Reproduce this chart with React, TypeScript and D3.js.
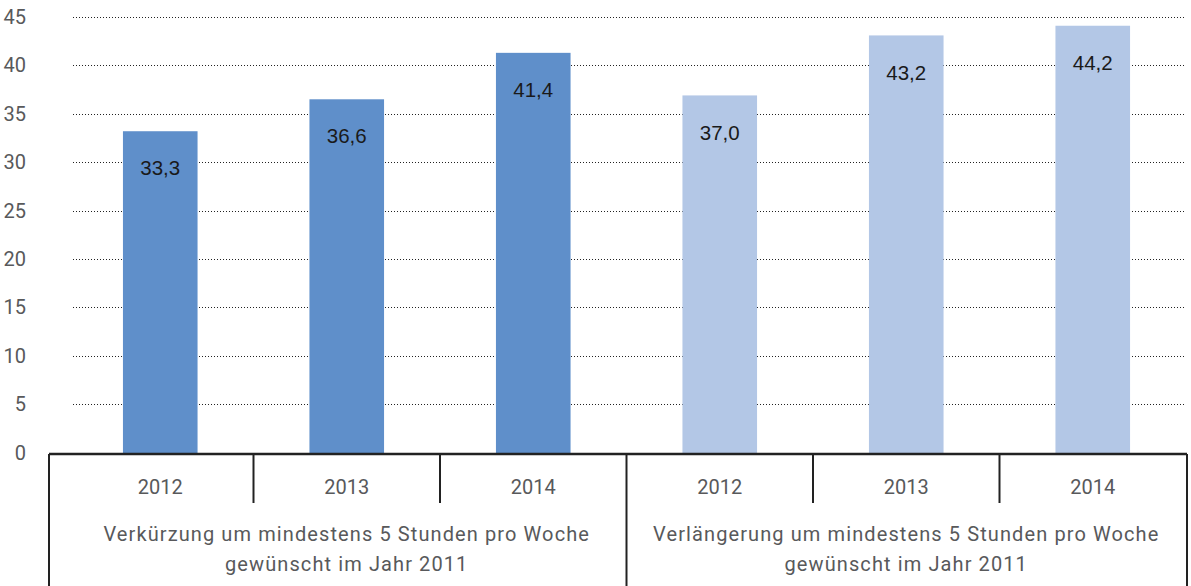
import React from "react";
import * as d3 from "d3";

const years = ["2012", "2013", "2014"];
const groups = [
  ["Verkürzung um mindestens 5 Stunden pro Woche", "gewünscht im Jahr 2011"],
  ["Verlängerung um mindestens 5 Stunden pro Woche", "gewünscht im Jahr 2011"],
];
const shortenValues = [33.3, 36.6, 41.4];
const extendValues = [37.0, 43.2, 44.2];
const yTicks = [0, 5, 10, 15, 20, 25, 30, 35, 40, 45];
const groupColors = ["#5f8fca", "#b3c7e6"];

const W = 1191;
const H = 586;

export default function App() {
  const bars = [
    ...shortenValues.map((v, i) => ({ key: `0-${i}`, g: 0, year: years[i], v })),
    ...extendValues.map((v, i) => ({ key: `1-${i}`, g: 1, year: years[i], v })),
  ];
  const x = d3
    .scaleBand<string>()
    .domain(bars.map((b) => b.key))
    .range([67, 1186])
    .paddingInner(0.6)
    .paddingOuter(0.3);
  const step = x.step();
  const y = d3.scaleLinear().domain([0, 45]).range([453.5, 18]);
  const axisY = 454;
  const fmt = (v: number) => d3.format(".1f")(v).replace(".", ",");
  const labelFont = "Roboto, 'Liberation Sans', Arial, sans-serif";
  const regular = "'Liberation Sans', Arial, sans-serif";
  const grey = "#58595b";

  const cellLeft = (k: string) => (x(k) as number) + x.bandwidth() / 2 - step / 2;
  const leftEdge = 49;
  const rightEdge = 1187;

  return (
    <div style={{ position: "fixed", left: 0, top: 0 }}>
      <svg width={W} height={H} style={{ display: "block", background: "#fff" }}>
        {yTicks
          .filter((t) => t > 0)
          .map((t) => (
            <line
              key={t}
              x1={73}
              x2={1185}
              y1={Math.round(y(t)) - 0.5}
              y2={Math.round(y(t)) - 0.5}
              stroke="#222"
              strokeWidth={1}
              strokeDasharray="1,2"
            />
          ))}
        {yTicks.map((t) => (
          <text
            key={t}
            x={26}
            y={y(t) - 1}
            dy="0.35em"
            textAnchor="end"
            fontFamily={labelFont}
            fontSize={20}
            fill={grey}
          >
            {t}
          </text>
        ))}
        {bars.map((b) => (
          <g key={b.key}>
            <rect
              x={x(b.key)}
              y={y(b.v)}
              width={x.bandwidth()}
              height={axisY - y(b.v)}
              fill={groupColors[b.g]}
            />
            <text
              x={(x(b.key) as number) + x.bandwidth() / 2}
              y={y(b.v) + 37}
              dy="0.35em"
              textAnchor="middle"
              fontFamily={regular}
              fontSize={20.5}
              fill="#1a1a1a"
            >
              {fmt(b.v)}
            </text>
          </g>
        ))}
        <line x1={leftEdge} x2={rightEdge} y1={axisY} y2={axisY} stroke="#222" strokeWidth={2.5} />
        <line x1={leftEdge} x2={leftEdge} y1={axisY} y2={H} stroke="#222" strokeWidth={2} />
        <line x1={rightEdge} x2={rightEdge} y1={axisY} y2={H} stroke="#222" strokeWidth={2} />
        {bars.map((b, i) =>
          i === 0 ? null : (
            <line
              key={"d" + b.key}
              x1={cellLeft(b.key)}
              x2={cellLeft(b.key)}
              y1={axisY}
              y2={i === 3 ? H : 503}
              stroke="#222"
              strokeWidth={2}
            />
          )
        )}
        {bars.map((b) => (
          <text
            key={"y" + b.key}
            x={(x(b.key) as number) + x.bandwidth() / 2}
            y={487}
            dy="0.35em"
            textAnchor="middle"
            fontFamily={labelFont}
            fontSize={20}
            fill={grey}
          >
            {b.year}
          </text>
        ))}
        {groups.map((lines, g) => {
          const mid = bars[g * 3 + 1].key;
          const cx = (x(mid) as number) + x.bandwidth() / 2;
          return (
            <text
              key={"g" + g}
              textAnchor="middle"
              fontFamily={labelFont}
              fontSize={20}
              letterSpacing={1.1}
              fill={grey}
            >
              {lines.map((l, j) => (
                <tspan key={j} x={cx} y={534 + j * 30} dy="0.35em">
                  {l}
                </tspan>
              ))}
            </text>
          );
        })}
      </svg>
    </div>
  );
}
